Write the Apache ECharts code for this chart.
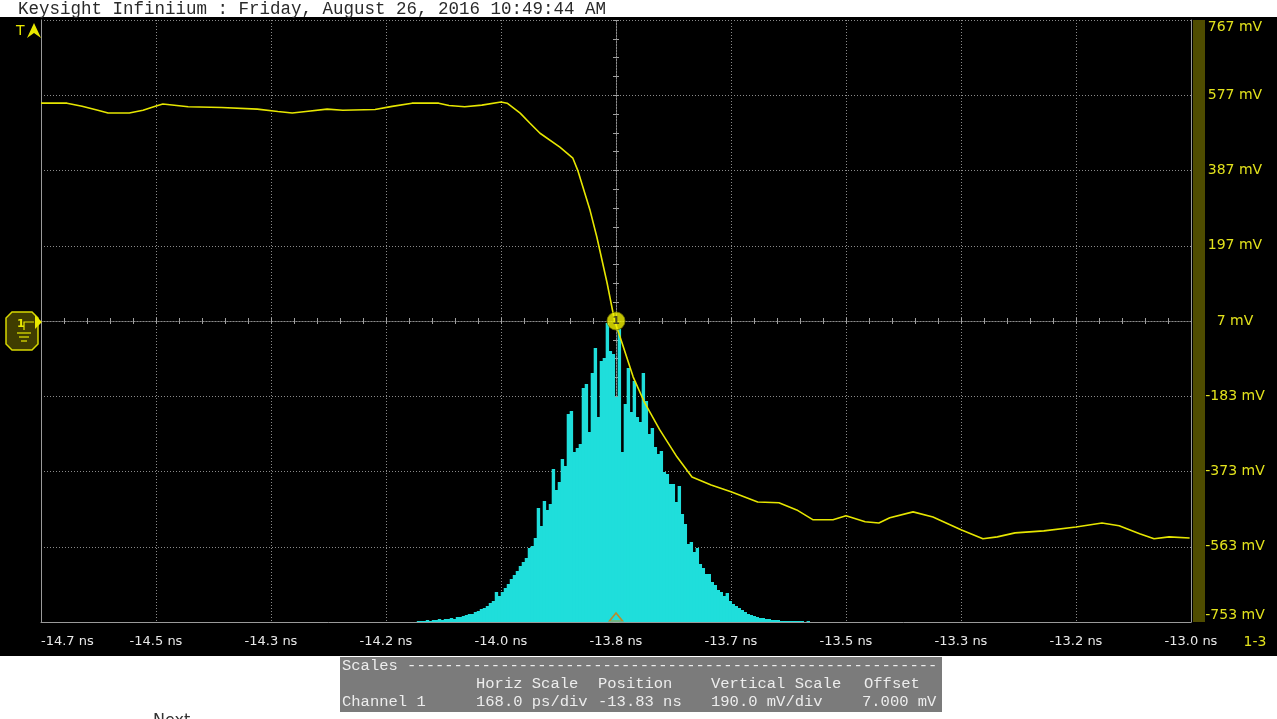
<!DOCTYPE html>
<html>
<head>
<meta charset="utf-8">
<script src="https://cdn.jsdelivr.net/npm/echarts@6/dist/echarts.min.js"></script>
<style>
html,body{margin:0;padding:0;background:#fff;}
#c{width:1277px;height:719px;}
</style>
</head>
<body>
<div id="c"></div>
<script>
// ---------- data ----------
const titleText = 'Keysight Infiniium : Friday, August 26, 2016 10:49:44 AM';
const timePositionNs = -13.83;      // centre of screen
const timeScalePsPerDiv = 168;
const vOffsetMv = 7;                // centre of screen
const vScaleMvPerDiv = 190;
const xTickLabels = ['-14.7 ns','-14.5 ns','-14.3 ns','-14.2 ns','-14.0 ns','-13.8 ns','-13.7 ns','-13.5 ns','-13.3 ns','-13.2 ns','-13.0 ns'];
const yTickLabels = ['-753 mV','-563 mV','-373 mV','-183 mV','7 mV','197 mV','387 mV','577 mV','767 mV'];

// Channel 1 waveform (time in ns, voltage in mV)
const waveTimeNs = [-14.670,-14.632,-14.610,-14.587,-14.572,-14.541,-14.521,-14.503,-14.492,-14.455,
  -14.406,-14.354,-14.324,-14.303,-14.283,-14.252,-14.229,-14.182,-14.157,-14.128,
  -14.089,-14.074,-14.051,-14.026,-13.998,-13.989,-13.970,-13.956,-13.941,-13.912,
  -13.893,-13.886,-13.868,-13.858,-13.843,-13.832,-13.821,-13.805,-13.788,-13.766,
  -13.741,-13.719,-13.691,-13.662,-13.623,-13.592,-13.566,-13.542,-13.513,-13.494,
  -13.466,-13.446,-13.430,-13.396,-13.367,-13.326,-13.294,-13.273,-13.247,-13.205,
  -13.158,-13.120,-13.095,-13.065,-13.044,-13.022,-12.992];
const waveMv = [557,557,549,539,532,532,539,549,555,548,
  546,542,536,532,536,542,539,541,549,557,
  557,551,548,552,560,557,532,507,481,446,
  418,388,287,219,103,7,-49,-134,-200,-268,
  -336,-387,-407,-424,-450,-452,-470,-495,-495,-485,
  -500,-503,-490,-475,-488,-520,-543,-538,-528,-523,
  -513,-503,-510,-530,-543,-538,-541];

// Time histogram of the edge crossing
const histStartNs = -14.121;
const histBinNs = 0.00438;
const histHits = [1,1,1,2,1,2,2,3,2,3, 3,4,3,5,5,6,7,8,8,10,
  11,13,14,16,19,21,30,26,30,34, 38,43,47,51,56,60,64,74,76,84,
  114,96,121,112,118,153,132,140,163,156, 208,211,170,174,178,234,238,190,249,274,
  205,261,264,299,271,268,225,293,170,218, 254,210,241,205,200,249,221,188,194,175,
  168,171,150,148,138,138,120,136,108,98, 78,80,70,74,58,54,48,48,40,37,
  32,30,26,29,21,18,16,14,12,10, 8,7,6,5,4,4,3,3,2,2,
  2,1,1,1,1,1,1,1,1,0, 1];
const histAxisMax = 602;

const triggerTimeNs = -13.83;
const triggerLevelMv = 7;

// ---------- build ----------
const xHalf = 5 * timeScalePsPerDiv;   // ps
const yHalf = 4 * vScaleMvPerDiv;      // mV
const toRelPs = t => Math.round((t - timePositionNs) * 100000) / 100;
const toRelMv = v => v - vOffsetMv;

const waveData = waveTimeNs.map((t, i) => [toRelPs(t), toRelMv(waveMv[i])]);
const histData = histHits.map((h, i) => [
  toRelPs(histStartNs + i * histBinNs),
  toRelPs(histStartNs + (i + 1) * histBinNs),
  h
]);

const dotted = {color: '#8a8a8a', type: [1, 2], width: 1};
const frame = {color: '#9a9a9a', width: 1};
const tickStyle = {color: '#a0a0a0', width: 1};

function crossX(pos) {
  return {
    type: 'value', min: -xHalf, max: xHalf, interval: timeScalePsPerDiv, position: pos,
    axisLine: {show: true, onZero: true, onZeroAxisIndex: 0, lineStyle: dotted},
    axisTick: {show: true, length: 3, lineStyle: tickStyle},
    minorTick: {show: true, splitNumber: 5, length: 3, lineStyle: tickStyle},
    axisLabel: {show: false}, splitLine: {show: false}, minorSplitLine: {show: false}
  };
}
function crossY(pos) {
  return {
    type: 'value', min: -yHalf, max: yHalf, interval: vScaleMvPerDiv, position: pos,
    axisLine: {show: true, onZero: true, onZeroAxisIndex: 0, lineStyle: dotted},
    axisTick: {show: true, length: 3, lineStyle: tickStyle},
    minorTick: {show: true, splitNumber: 4, length: 3, lineStyle: tickStyle},
    axisLabel: {show: false}, splitLine: {show: false}, minorSplitLine: {show: false}
  };
}
function frameY(pos) {
  return {
    type: 'value', min: -yHalf, max: yHalf, position: pos,
    axisLine: {show: true, onZero: false, lineStyle: frame},
    axisTick: {show: false}, axisLabel: {show: false}, splitLine: {show: false}
  };
}

const mono = '"Liberation Mono","DejaVu Sans Mono",monospace';
const boxFont = '15.5px ' + mono;
const boxFill = '#ededed';
function boxText(x, y, s) {
  return {type: 'text', x: x, y: y, z: 20,
    style: {text: s, font: boxFont, fill: boxFill, textVerticalAlign: 'middle', verticalAlign: 'middle', textAlign: 'left', align: 'left'}};
}
const dashes = '-'.repeat(57);

const chart = echarts.init(document.getElementById('c'), null, {renderer: 'canvas'});
chart.setOption({
  animation: false,
  backgroundColor: '#000',
  title: {
    text: titleText, left: 18, top: 0, padding: 0,
    textStyle: {fontFamily: mono, fontSize: 17.5, fontWeight: 'normal', color: '#2a2a2a'}
  },
  grid: {left: 41, right: 86, top: 20, bottom: 97, show: false},
  xAxis: [
    {
      type: 'value', min: -xHalf, max: xHalf, interval: timeScalePsPerDiv, position: 'bottom',
      axisLine: {show: true, onZero: false, lineStyle: frame},
      axisTick: {show: false},
      axisLabel: {
        color: '#e8e8e8', fontFamily: '"DejaVu Sans",sans-serif', fontSize: 13, margin: 13,
        alignMinLabel: 'left',
        formatter: v => xTickLabels[Math.round((v + xHalf) / timeScalePsPerDiv)]
      },
      splitLine: {show: true, lineStyle: dotted}
    },
    crossX('bottom'),
    crossX('top')
  ],
  yAxis: [
    {
      type: 'value', min: -yHalf, max: yHalf, interval: vScaleMvPerDiv, position: 'right', offset: 8,
      axisLine: {show: true, onZero: false, lineStyle: {color: '#4f4c00', width: 12, cap: 'butt'}},
      axisTick: {show: false},
      axisLabel: {
        color: '#e2e21c', fontFamily: '"DejaVu Sans",sans-serif', fontSize: 14, margin: 36, align: 'center',
        verticalAlignMinLabel: 'bottom', verticalAlignMaxLabel: 'top',
        formatter: v => yTickLabels[Math.round((v + yHalf) / vScaleMvPerDiv)]
      },
      splitLine: {show: true, lineStyle: dotted}
    },
    {type: 'value', min: 0, max: histAxisMax, position: 'left', show: false, axisLine: {onZero: false}},
    crossY('left'),
    crossY('right'),
    frameY('left'),
    frameY('right')
  ],
  series: [
    {
      name: 'Histogram', type: 'custom', xAxisIndex: 0, yAxisIndex: 1, z: 2, silent: true, clip: true,
      data: histData, encode: {x: [0, 1], y: 2},
      renderItem: function (params, api) {
        const p0 = api.coord([api.value(0), api.value(2)]);
        const p1 = api.coord([api.value(1), 0]);
        return {type: 'rect', shape: {x: p0[0], y: p0[1], width: p1[0] - p0[0] + 0.4, height: p1[1] - p0[1]},
          style: {fill: '#1fdedb'}};
      }
    },
    {
      name: 'Channel 1', type: 'line', xAxisIndex: 0, yAxisIndex: 0, z: 4, silent: true,
      data: waveData, showSymbol: false, symbol: 'none',
      lineStyle: {color: '#e6e600', width: 1.6}
    },
    {
      name: 'Marker', type: 'scatter', xAxisIndex: 0, yAxisIndex: 0, z: 6, silent: true,
      data: [[toRelPs(triggerTimeNs), toRelMv(triggerLevelMv)]],
      symbol: 'circle', symbolSize: 18,
      itemStyle: {color: '#f2f200', borderColor: '#7a7a00', borderWidth: 1},
      label: {show: true, position: 'inside', formatter: '1', color: '#222', fontSize: 11, fontWeight: 'bold', fontFamily: '"DejaVu Sans",sans-serif'}
    },
    {
      name: 'Reference', type: 'scatter', xAxisIndex: 0, yAxisIndex: 1, z: 6, silent: true,
      data: [[toRelPs(timePositionNs), 0]],
      symbol: 'triangle', symbolSize: [13, 8], symbolOffset: [0, -5],
      itemStyle: {color: 'rgba(0,0,0,0)', borderColor: '#e07800', borderWidth: 1.5}
    }
  ],
  graphic: [
    {type: 'rect', z: 1, shape: {x: 0, y: 0, width: 1277, height: 17}, style: {fill: '#fff'}},
    {type: 'rect', z: 1, shape: {x: 0, y: 656, width: 1277, height: 63}, style: {fill: '#fff'}},
    {type: 'rect', z: 2, shape: {x: 340, y: 657, width: 602, height: 55}, style: {fill: '#7b7b7b'}},
    boxText(342, 666, 'Scales ' + dashes),
    boxText(476, 684, 'Horiz Scale'),
    boxText(598, 684, 'Position'),
    boxText(711, 684, 'Vertical Scale'),
    boxText(864, 684, 'Offset'),
    boxText(342, 702, 'Channel 1'),
    boxText(476, 702, timeScalePsPerDiv.toFixed(1) + ' ps/div'),
    boxText(598, 702, timePositionNs.toFixed(2) + ' ns'),
    boxText(711, 702, vScaleMvPerDiv.toFixed(1) + ' mV/div'),
    boxText(862, 702, vOffsetMv.toFixed(3) + ' mV'),
    {type: 'text', x: 153, y: 713, z: 20,
      style: {text: 'Next', font: '16px "DejaVu Sans",sans-serif', fill: '#333', textVerticalAlign: 'top', verticalAlign: 'top'}},
    {type: 'text', x: 1255, y: 642, z: 20,
      style: {text: '1-3', font: '14px "DejaVu Sans",sans-serif', fill: '#e2e21c', textAlign: 'center', align: 'center', textVerticalAlign: 'middle', verticalAlign: 'middle'}},
    // trigger indicator "T ^"
    {type: 'text', x: 16, y: 31, z: 20,
      style: {text: 'T', font: '14px "DejaVu Sans",sans-serif', fill: '#e8e800', textVerticalAlign: 'middle', verticalAlign: 'middle'}},
    {type: 'polygon', z: 20, shape: {points: [[27, 38], [34, 23], [41, 38], [34, 33]]}, style: {fill: '#e8e800'}},
    // channel 1 ground marker
    {type: 'polygon', z: 20, shape: {points: [[12, 312], [32, 312], [38, 318], [38, 344], [32, 350], [12, 350], [6, 344], [6, 318]]},
      style: {fill: '#3f3c00', stroke: '#d8d800', lineWidth: 1.5}},
    {type: 'polygon', z: 21, shape: {points: [[35, 315], [42, 322], [35, 329]]}, style: {fill: '#e8e800'}},
    {type: 'text', x: 17, y: 324, z: 21,
      style: {text: '1', font: 'bold 11px "DejaVu Sans",sans-serif', fill: '#e8e800', textVerticalAlign: 'middle', verticalAlign: 'middle'}},
    {type: 'polyline', z: 21, shape: {points: [[24, 330], [24, 322], [34, 322]]}, style: {stroke: '#e8e800', lineWidth: 1.2, fill: null}},
    {type: 'line', z: 21, shape: {x1: 17, y1: 333, x2: 31, y2: 333}, style: {stroke: '#e8e800', lineWidth: 1.2}},
    {type: 'line', z: 21, shape: {x1: 19, y1: 337, x2: 29, y2: 337}, style: {stroke: '#e8e800', lineWidth: 1.2}},
    {type: 'line', z: 21, shape: {x1: 21, y1: 341, x2: 27, y2: 341}, style: {stroke: '#e8e800', lineWidth: 1.2}}
  ]
});
</script>
</body>
</html>
